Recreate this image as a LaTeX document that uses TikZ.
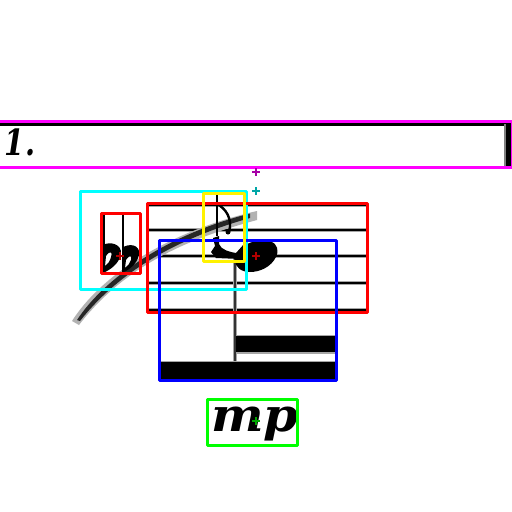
\documentclass[tikz,border=0pt]{standalone}
\usepackage{fontspec}
\setmainfont{Liberation Serif}
\newfontfamily\dynfont[BoldItalicFont={DejaVu Serif Bold Italic}]{DejaVu Serif}
\tikzset{
  stafflinehalo/.style={draw=black!35,line width=4.4pt},
  staffline/.style={draw=black,line width=2.8pt},
  frame/.style={line width=3pt,line join=round,fill=none},
  mark cross/.style={line width=2.2pt},
  dyn/.style={inner sep=0pt,outer sep=0pt}
}
\begin{document}
\begin{tikzpicture}[x=1pt,y=-1pt]
\useasboundingbox (0,0) rectangle (512,512);
\fill[white] (0,0) rectangle (512,512);
% top system
\draw[black,line width=3pt] (0,124) -- (509,124);
\fill[black] (506,122) rectangle (511,167);
\fill[black!50] (504,124) rectangle (506,166);
\node[dyn,font=\fontsize{36}{36}\selectfont\dynfont\bfseries\itshape,xscale=0.8,anchor=base west] (num) at (5,155) {1.};
% staff
\foreach \yy in {205,230,256,283,310}{\draw[stafflinehalo] (147,\yy) -- (366,\yy);\draw[staffline] (147,\yy) -- (366,\yy);}
% slur
\fill[black!30] (72,321) .. controls (100,277) and (165,232) .. (257,211) -- (257,220) .. controls (190,238) and (125,265) .. (79,325) -- cycle;
\fill[black!85] (77,320) .. controls (104,279) and (165,235) .. (250,213.5) -- (250,218) .. controls (190,235) and (125,264) .. (80,321) -- cycle;
% stem and beams
\draw[black!35,line width=3.4pt] (235,256) -- (235,364);
\draw[black!80,line width=2pt] (235,256) -- (235,364);
\fill[black!35] (236,334.5) rectangle (336,353.5);
\fill[black] (236,336) rectangle (336,352);
\fill[black!35] (159,360.5) rectangle (336,380);
\fill[black] (159,362) rectangle (336,380);
\fill[black] (235,260) .. controls (238,250) and (246,242) .. (256,241.5) -- (270,241.5) .. controls (278,243) and (279,252) .. (276,257) .. controls (271,267) and (260,272) .. (250,272) .. controls (241,272) and (235,267) .. (235,260) -- cycle;
% eighth note
\draw[black,line width=2.8pt] (217,193) -- (217,236);
\draw[black,line width=2.4pt] (217,204) .. controls (225,208) and (233,218) .. (229,232);
\fill[black] (228,232) circle (2.5pt);
\fill[black] (213,238) -- (219,236) -- (219,244) .. controls (221,250) and (230,252) .. (236,253) -- (244,244) -- (244,256) -- (240,259) -- (216,258) -- (211,252) -- (215,246) -- cycle;
% flats
\draw[black,line width=2.4pt] (104,214) -- (104,270);
\draw[black,line width=2.4pt] (123,214) -- (123,270);
\fill[black,even odd rule] (103,245) .. controls (110,241) and (122,244) .. (121,254) .. controls (119,264) and (110,270) .. (103,273) -- cycle (106,256) .. controls (110,250) and (113,252) .. (111,257) .. controls (110,261) and (108,264) .. (105,266) -- cycle;
\fill[black,even odd rule] (122,248) .. controls (128,243) and (141,244) .. (139,255) .. controls (137,264) and (129,270) .. (122,273) -- cycle (126,260) .. controls (130,254) and (132,256) .. (131,260) .. controls (130,263) and (128,266) .. (125,268) -- cycle;
% dynamics
\node[dyn,font=\fontsize{46}{46}\selectfont\dynfont\bfseries\itshape,xscale=1.08,anchor=base west] (dynmp) at (211,431) {mp};
% boxes
\draw[frame,draw={rgb,255:red,255;green,0;blue,255}] (-3,121) rectangle (512,167);
\draw[frame,draw={rgb,255:red,0;green,255;blue,255}] (80,191) rectangle (246,289);
\draw[frame,red] (147,203) rectangle (367,312);
\draw[frame,red] (101,213) rectangle (140,273);
\draw[frame,blue] (159,240) rectangle (336,380);
\draw[frame,yellow] (203,193) rectangle (244,261);
\draw[frame,green] (207,399) rectangle (297,445);
% centre marks
\foreach \cx/\cy/\cc in {256/172/violet!70!magenta,256/191/teal!70!cyan,120/256/red!70!black,256/256/red!70!black,256/421/green!65!black}{
  \draw[mark cross,\cc] (\cx-4,\cy) -- (\cx+4,\cy);
  \draw[mark cross,\cc] (\cx,\cy-4) -- (\cx,\cy+4);
}
\end{tikzpicture}
\end{document}
